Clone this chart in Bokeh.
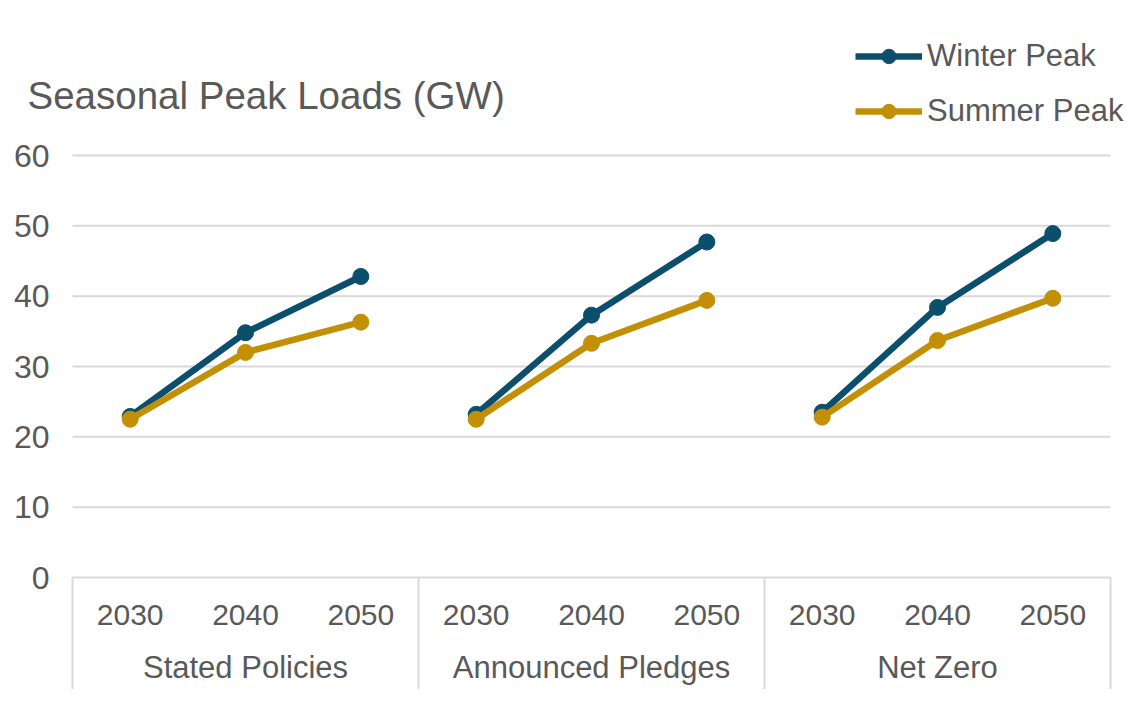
from bokeh.plotting import figure
from bokeh.models import Range1d, Legend, LegendItem
from bokeh.core.properties import value
from bokeh.embed import file_html
from bokeh.resources import INLINE

# ---------------- data ----------------
groups = ["Stated Policies", "Announced Pledges", "Net Zero"]
years = ["2030", "2040", "2050"]
winter_peak = [[22.9, 34.8, 42.8], [23.2, 37.3, 47.7], [23.5, 38.4, 48.9]]
summer_peak = [[22.5, 32.0, 36.3], [22.5, 33.3, 39.4], [22.8, 33.7, 39.7]]
y_ticks = [0, 10, 20, 30, 40, 50, 60]
title_text = "Seasonal Peak Loads (GW)"
series_names = ["Winter Peak", "Summer Peak"]

# ---------------- style ----------------
WINTER = "#0C4F6D"
SUMMER = "#C28F05"
TXT = "#595959"
GRID = "#D9D9D9"
FONT = "Liberation Sans"

W, H = 1124, 689
# layout in figure pixels
x0_px, xN_px = 72, 1110      # category axis start / end
y0_px, yT_px = 577, 155      # y=0 and y=top tick
n_cat = len(groups) * len(years)
ppx = (xN_px - x0_px) / n_cat
ppy = (y0_px - yT_px) / (y_ticks[-1] - y_ticks[0])

x_start = -x0_px / ppx
x_end = n_cat + (W - xN_px) / ppx
y_start = -(H - y0_px) / ppy
y_end = y_ticks[-1] + yT_px / ppy

p = figure(width=W, height=H, output_backend="svg", toolbar_location=None,
           x_range=Range1d(x_start, x_end), y_range=Range1d(y_start, y_end),
           min_border=0, x_axis_type=None, y_axis_type=None)
p.outline_line_color = None
p.grid.visible = False
p.background_fill_color = "white"

# grid lines
p.segment(x0=[0] * len(y_ticks), x1=[n_cat] * len(y_ticks), y0=y_ticks, y1=y_ticks,
          line_color=GRID, line_width=2)
# group separators
sep_x = [i * len(years) for i in range(len(groups) + 1)]
p.segment(x0=sep_x, x1=sep_x, y0=[0] * len(sep_x), y1=[y_start] * len(sep_x),
          line_color=GRID, line_width=2)

# y tick labels
p.text(x=[0] * len(y_ticks), y=y_ticks, text=[str(t) for t in y_ticks],
       x_offset=-23, text_align="right", text_baseline="middle",
       text_font=value(FONT), text_font_size="32px", text_color=TXT)

# year and group labels
yr_x, yr_t, gp_x = [], [], []
for gi, g in enumerate(groups):
    for yi, yv in enumerate(years):
        yr_x.append(gi * len(years) + yi + 0.5)
        yr_t.append(yv)
    gp_x.append(gi * len(years) + len(years) / 2)
p.text(x=yr_x, y=[0] * len(yr_x), text=yr_t, y_offset=37,
       text_align="center", text_baseline="middle",
       text_font=value(FONT), text_font_size="30px", text_color=TXT)
p.text(x=gp_x, y=[0] * len(gp_x), text=groups, y_offset=90,
       text_align="center", text_baseline="middle",
       text_font=value(FONT), text_font_size="31px", text_color=TXT)

# title
p.text(x=[0], y=[y_ticks[-1]], text=[title_text], x_offset=-45, y_offset=-60,
       text_align="left", text_baseline="middle",
       text_font=value(FONT), text_font_size="38.5px", text_color=TXT)

# series
items = []
for name, vals, col in [(series_names[0], winter_peak, WINTER),
                        (series_names[1], summer_peak, SUMMER)]:
    xs, ys, px, py = [], [], [], []
    for gi, gv in enumerate(vals):
        gx = [gi * len(years) + yi + 0.5 for yi in range(len(years))]
        xs.append(gx)
        ys.append(gv)
        px += gx
        py += gv
    r1 = p.multi_line(xs=xs, ys=ys, line_color=col, line_width=6.5)
    r2 = p.scatter(x=px, y=py, size=16, fill_color=col, line_color=col)
    items.append(LegendItem(label=name, renderers=[r1, r2]))

legend = Legend(items=items, location=(855, 560), orientation="vertical",
                glyph_width=67, glyph_height=36, label_standoff=5,
                spacing=19, padding=0, margin=0,
                label_text_font=FONT, label_text_font_size="31px",
                label_text_color=TXT, border_line_color=None,
                background_fill_alpha=0, label_text_baseline="middle")
p.add_layout(legend)

open("out.html", "w").write(file_html(p, INLINE))
